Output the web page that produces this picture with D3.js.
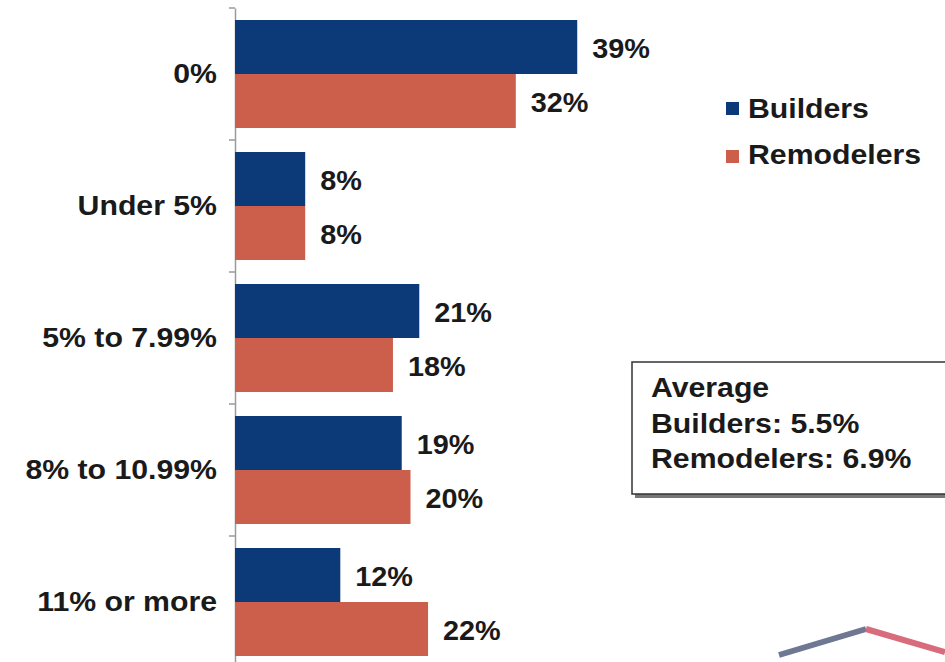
<!DOCTYPE html>
<html><head><meta charset="utf-8">
<script src="https://cdn.jsdelivr.net/npm/d3@7"></script>
<style>html,body{margin:0;padding:0;background:#fff;}svg{display:block;font-family:"Liberation Sans",Arial,sans-serif;}</style>
</head><body>
<svg id="c" width="945" height="662"></svg>
<script>
const categories = ["0%", "Under 5%", "5% to 7.99%", "8% to 10.99%", "11% or more"];
const series = ["Builders", "Remodelers"];
const builders = [39, 8, 21, 19, 12];
const remodelers = [32, 8, 18, 20, 22];
const averageLines = ["Average", "Builders: 5.5%", "Remodelers: 6.9%"];
const colors = {Builders: "#0c3a78", Remodelers: "#cc5f4b"};

const svg = d3.select("#c");
const x = d3.scaleLinear().domain([0, 40]).range([235, 586]);
const y0 = d3.scaleBand().domain(categories).range([8, 668]);
const y1 = d3.scaleBand().domain(series).range([12, 120]);
const vals = {Builders: builders, Remodelers: remodelers};
const SX = 1.08;

function stretchedText(parent, tx, ty, txt, anchor, sx) {
  parent.append("g").attr("transform", `translate(${tx},${ty}) scale(${sx},1)`)
    .append("text").attr("text-anchor", anchor).attr("font-size", 28).attr("font-weight", "bold")
    .attr("fill", "#1a1a1a").text(txt);
}

// axis
const axis = d3.axisLeft(y0).tickSize(0).tickFormat("");
const ag = svg.append("g").attr("transform", "translate(235,0)").call(axis);
ag.select(".domain").attr("stroke", "#9a9a9a").attr("stroke-width", 1.5);
const bounds = categories.map(c => y0(c)).concat([y0.range()[1]]);
svg.selectAll("line.tk").data(bounds).join("line").attr("class", "tk")
  .attr("x1", 229).attr("x2", 235).attr("y1", d => d).attr("y2", d => d)
  .attr("stroke", "#9a9a9a").attr("stroke-width", 1.5);

// category labels
const cg = svg.append("g");
categories.forEach(c => stretchedText(cg, 217, y0(c) + y0.bandwidth() / 2 + 9, c, "end", SX));

// bars
series.forEach(s => {
  const g = svg.append("g");
  g.selectAll("rect").data(categories).join("rect")
    .attr("x", x(0)).attr("y", (c) => y0(c) + y1(s))
    .attr("width", (c, i) => x(vals[s][i]) - x(0)).attr("height", y1.bandwidth())
    .attr("fill", colors[s]);
  categories.forEach((c, i) => stretchedText(g, x(vals[s][i]) + 15, y0(c) + y1(s) + y1.bandwidth() / 2 + 11, vals[s][i] + "%", "start", 1.03));
});

// legend
const leg = svg.append("g");
series.forEach((s, i) => {
  leg.append("rect").attr("x", 726).attr("y", 102 + i * 48).attr("width", 13).attr("height", 13).attr("fill", colors[s]);
  stretchedText(leg, 748, 118 + i * 45.5, s, "start", SX);
});

// average box
svg.append("rect").attr("x", 635).attr("y", 365).attr("width", 330).attr("height", 133).attr("fill", "#777");
svg.append("rect").attr("x", 632).attr("y", 362).attr("width", 330).attr("height", 132)
  .attr("fill", "#fff").attr("stroke", "#333").attr("stroke-width", 1.5);
const bg = svg.append("g");
averageLines.forEach((t, i) => stretchedText(bg, 651, 397 + i * 35.5, t, "start", SX));

// logo fragment
svg.append("path").attr("d", "M779,655 L866,629").attr("stroke", "#6e7893").attr("stroke-width", 6).attr("fill", "none");
svg.append("path").attr("d", "M866,629 L945,652").attr("stroke", "#d86c7c").attr("stroke-width", 6).attr("fill", "none");
</script>
</body></html>
